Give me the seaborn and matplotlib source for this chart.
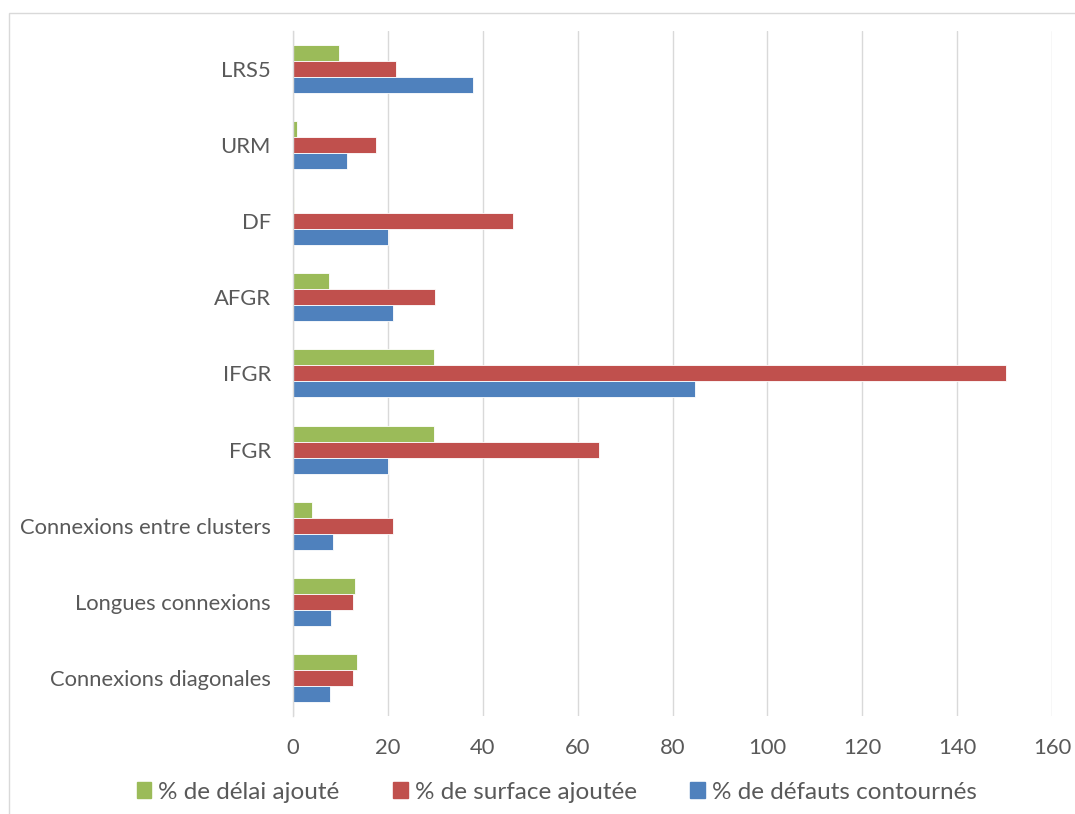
import matplotlib.pyplot as plt
import matplotlib.patches as mpatches
import pandas as pd
import seaborn as sns

# categories, top to bottom as displayed
categories = [
    "LRS5",
    "URM",
    "DF",
    "AFGR",
    "IFGR",
    "FGR",
    "Connexions entre clusters",
    "Longues connexions",
    "Connexions diagonales",
]
series_names = ["% de délai ajouté", "% de surface ajoutée", "% de défauts contournés"]

delai = [9.6, 0.9, 0.1, 7.5, 29.7, 29.8, 4.0, 13.1, 13.5]
surface = [21.8, 17.4, 46.3, 30.0, 150.3, 64.6, 21.1, 12.7, 12.7]
defauts = [38.0, 11.3, 20.0, 21.0, 84.8, 20.0, 8.5, 8.0, 7.8]

colors = ["#9BBB59", "#C0504D", "#4F81BD"]

rows = []
for name, values in zip(series_names, [delai, surface, defauts]):
    for cat, v in zip(categories, values):
        rows.append({"categorie": cat, "serie": name, "valeur": v})
df = pd.DataFrame(rows)

sns.set_theme(style="white")
plt.rcParams["font.family"] = ["Lato", "DejaVu Sans"]

fig = plt.figure(figsize=(10.75, 8.14), dpi=100)
ax = fig.add_axes([0.2726, 0.1204, 0.7060, 0.8416])

sns.barplot(
    data=df, y="categorie", x="valeur", hue="serie",
    order=categories, hue_order=series_names, palette=colors,
    orient="h", width=0.63, saturation=1, ax=ax,
    edgecolor="white", linewidth=0.6,
)

ax.set_xlim(0, 160)
ax.set_xticks(range(0, 161, 20))
ax.set_ylim(len(categories) - 0.5, -0.5)
ax.grid(axis="x", color="#D9D9D9", linewidth=1)
ax.set_axisbelow(True)
ax.set_xlabel("")
ax.set_ylabel("")
for side in ["top", "right", "bottom"]:
    ax.spines[side].set_visible(False)
ax.spines["left"].set_color("#D9D9D9")
ax.spines["left"].set_linewidth(1)
ax.tick_params(axis="both", length=0, labelsize=15.8, labelcolor="#595959")
ax.tick_params(axis="x", pad=16)
ax.tick_params(axis="y", pad=16)

ax.get_legend().remove()
handles = [mpatches.Patch(color=c, label=n) for c, n in zip(colors, series_names)]
fig.legend(
    handles=handles, loc="center", bbox_to_anchor=(0.518, 0.027), ncol=3,
    frameon=False, fontsize=17.5, handlelength=0.6, handleheight=0.6,
    handletextpad=0.3, columnspacing=2.2, labelcolor="#595959",
)

# outer chart border
fig.patches.append(mpatches.Rectangle(
    (9 / 1075, -0.01), 1.1, 1 - 13 / 814 + 0.01, transform=fig.transFigure,
    fill=False, edgecolor="#D9D9D9", linewidth=1,
))

fig.savefig("out.png", dpi=100)
